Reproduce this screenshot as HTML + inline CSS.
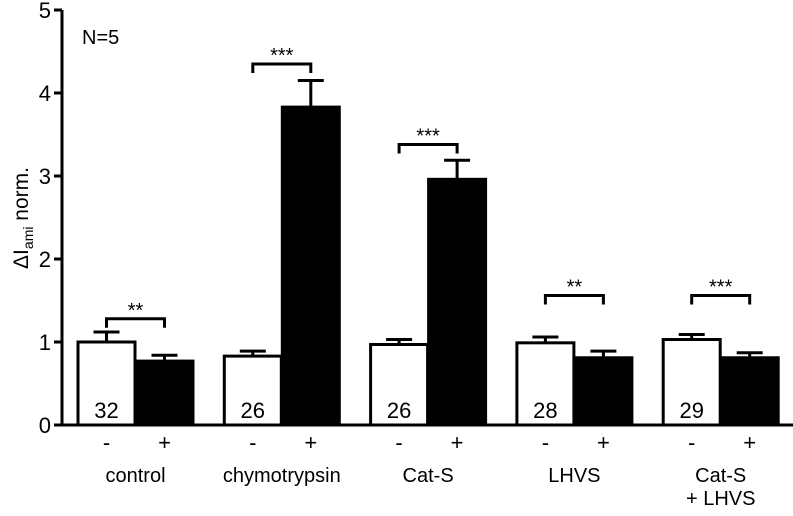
<!DOCTYPE html>
<html><head><meta charset="utf-8"><style>
body{margin:0;background:#fff;}
svg{display:block;font-family:"Liberation Sans",Arial,sans-serif;}
</style></head><body>
<svg id="chart" width="793" height="516" viewBox="0 0 793 516" xmlns="http://www.w3.org/2000/svg">
<g id="axes"></g>
<g id="bars"></g>
<text x="82" y="44" font-size="20">N=5</text>
<text transform="translate(28,218) rotate(-90)" font-size="21" text-anchor="middle">ΔI<tspan font-size="14" dy="5">ami</tspan><tspan dy="-5"> norm.</tspan></text>
</svg>
<script>
const groups = ["control","chymotrypsin","Cat-S","LHVS","Cat-S|+ LHVS"];
const minusVals = [1.0,0.83,0.97,0.99,1.03];
const minusErr = [0.12,0.06,0.06,0.07,0.06];
const plusVals = [0.77,3.83,2.96,0.81,0.81];
const plusErr = [0.07,0.32,0.23,0.08,0.06];
const nLabels = ["32","26","26","28","29"];
const sigLabels = ["**","***","***","**","***"];
const sigLevel = [1.28,4.35,3.38,1.56,1.56];
const yTicks = [0,1,2,3,4,5];

const NS="http://www.w3.org/2000/svg";
const y0=425, pxPerUnit=83, axisX=62;
const y = v => y0 - v*pxPerUnit;
const gx = i => 78 + i*146.3;
const bw = 57;
const axes=document.getElementById('axes'), bars=document.getElementById('bars');
function mk(tag, attrs, parent, text){const e=document.createElementNS(NS,tag);for(const k in attrs)e.setAttribute(k,attrs[k]);if(text!==undefined)e.textContent=text;parent.appendChild(e);return e;}

let e=mk('line',{x1:axisX,y1:y(5),x2:axisX,y2:y0+1,stroke:'#000','stroke-width':3},axes);


e=mk('line',{x1:axisX-2,y1:y0,x2:793,y2:y0,stroke:'#000','stroke-width':3},axes);


yTicks.forEach(t=>{
  let l=mk('line',{x1:axisX-8,y1:y(t),x2:axisX,y2:y(t),stroke:'#000','stroke-width':3},axes);
  
  
  let tx=mk('text',{x:axisX-11,y:y(t)+8,'font-size':22,'text-anchor':'end'},axes,String(t));
  
  
});

groups.forEach((g,i)=>{
  const xa=gx(i), xb=xa+bw+1;
  // error bars
  [[xa,minusVals[i],minusErr[i]],[xb,plusVals[i],plusErr[i]]].forEach(([x,v,er])=>{
    const cx=x+bw/2;
    let p=mk('path',{d:`M${cx},${y(v)} V${y(v+er)} M${cx-13},${y(v+er)} H${cx+13}`,stroke:'#000','stroke-width':3,fill:'none'},bars);
    
    
  });
  let r=mk('rect',{x:xa,y:y(minusVals[i]),width:bw,height:y0-y(minusVals[i]),fill:'#fff',stroke:'#000','stroke-width':3},bars);
  
  
  r=mk('rect',{x:xb,y:y(plusVals[i]),width:bw,height:y0-y(plusVals[i]),fill:'#000',stroke:'#000','stroke-width':3},bars);
  
  
  let t=mk('text',{x:xa+bw/2,y:418,'font-size':22,'text-anchor':'middle'},bars,nLabels[i]);
  
  
  // significance bracket
  const c1=xa+bw/2, c2=xb+bw/2, by=y(sigLevel[i]);
  let b=mk('path',{d:`M${c1},${by+9} V${by} H${c2} V${by+9}`,stroke:'#000','stroke-width':3,fill:'none'},bars);
  
  
  t=mk('text',{x:(c1+c2)/2,y:by-2,'font-size':20,'text-anchor':'middle'},bars,sigLabels[i]);
  
  
  t=mk('text',{x:c1,y:450,'font-size':22,'text-anchor':'middle'},bars,'-');
  
  
  t=mk('text',{x:c2,y:450,'font-size':22,'text-anchor':'middle'},bars,'+');
  
  
  g.split('|').forEach((line,k)=>{
    let gl=mk('text',{x:(c1+c2)/2,y:482+k*23,'font-size':20,'text-anchor':'middle'},bars,line);
    
    
  });
});
</script>
</body></html>
